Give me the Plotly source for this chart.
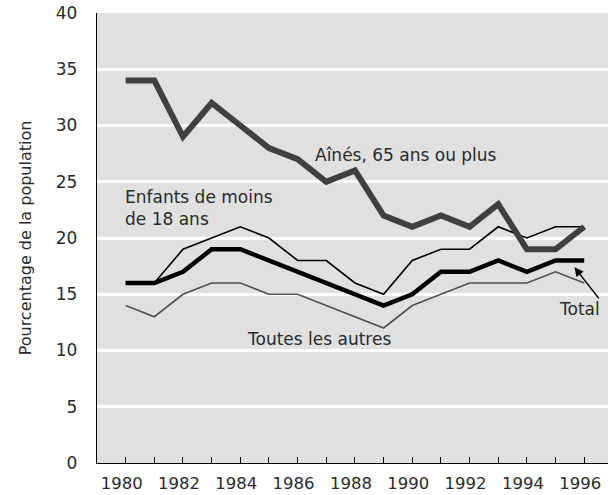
import plotly.graph_objects as go

years = list(range(1980, 1997))
aines = [34, 34, 29, 32, 30, 28, 27, 25, 26, 22, 21, 22, 21, 23, 19, 19, 21]
enfants = [16, 16, 19, 20, 21, 20, 18, 18, 16, 15, 18, 19, 19, 21, 20, 21, 21]
total = [16, 16, 17, 19, 19, 18, 17, 16, 15, 14, 15, 17, 17, 18, 17, 18, 18]
autres = [14, 13, 15, 16, 16, 15, 15, 14, 13, 12, 14, 15, 16, 16, 16, 17, 16]

y_ticks = [0, 5, 10, 15, 20, 25, 30, 35, 40]
x_ticktext = [str(y) if y % 2 == 0 else "" for y in years]

FONT = "DejaVu Sans"
TXT = "#2a2a2a"

fig = go.Figure()
fig.add_trace(go.Scatter(x=years, y=autres, mode="lines",
                         line=dict(color="#505050", width=1.6), showlegend=False))
fig.add_trace(go.Scatter(x=years, y=enfants, mode="lines",
                         line=dict(color="#000000", width=1.6), showlegend=False))
fig.add_trace(go.Scatter(x=years, y=aines, mode="lines",
                         line=dict(color="#404040", width=6), showlegend=False))
fig.add_trace(go.Scatter(x=years, y=total, mode="lines",
                         line=dict(color="#000000", width=4.5), showlegend=False))

fig.update_layout(
    width=608, height=495,
    margin=dict(l=97, r=0, t=13, b=32),
    paper_bgcolor="white",
    plot_bgcolor="#e0e0e0",
    font=dict(family=FONT, size=16, color=TXT),
    xaxis=dict(range=[1979.0, 1996.83], tickvals=years, ticktext=x_ticktext,
               ticks="inside", ticklen=6, tickcolor="#000", tickwidth=1,
               showgrid=False, zeroline=False, showline=True, linecolor="#000",
               linewidth=1.3, ticklabelstandoff=5, ticklabelshift=-4,
               tickfont=dict(size=16.5, color=TXT)),
    yaxis=dict(range=[0, 40], tickvals=y_ticks, ticks="", showgrid=True,
               gridcolor="white", gridwidth=2.5, zeroline=False, showline=True,
               linecolor="#000", linewidth=1.3, ticklabelstandoff=15,
               tickfont=dict(size=17, color=TXT),
               title=dict(text="Pourcentage de la population", standoff=20,
                          font=dict(size=16, color=TXT))),
)

fig.add_annotation(x=1986.53, y=27.4, text="Aînés, 65 ans ou plus", showarrow=False,
                   xanchor="left", yanchor="middle", font=dict(size=17, color=TXT))
fig.add_annotation(x=1979.92, y=22.7, text="Enfants de moins<br>de 18 ans", showarrow=False,
                   xanchor="left", yanchor="middle", align="left", font=dict(size=17, color=TXT))
fig.add_annotation(x=1984.16, y=11.0, text="Toutes les autres", showarrow=False,
                   xanchor="left", yanchor="middle", font=dict(size=17, color=TXT))
fig.add_annotation(x=1995.04, y=13.65, text="Total", showarrow=False,
                   xanchor="left", yanchor="middle", font=dict(size=17, color=TXT))
fig.add_annotation(x=1995.66, y=17.4, ax=1996.55, ay=14.5, axref="x", ayref="y",
                   text="", showarrow=True, arrowhead=2, arrowsize=1.2,
                   arrowwidth=1.5, arrowcolor="#000")

fig.write_html("out.html", config={"displayModeBar": False},
               post_script="document.body.style.margin='0';document.body.style.overflow='hidden';")
